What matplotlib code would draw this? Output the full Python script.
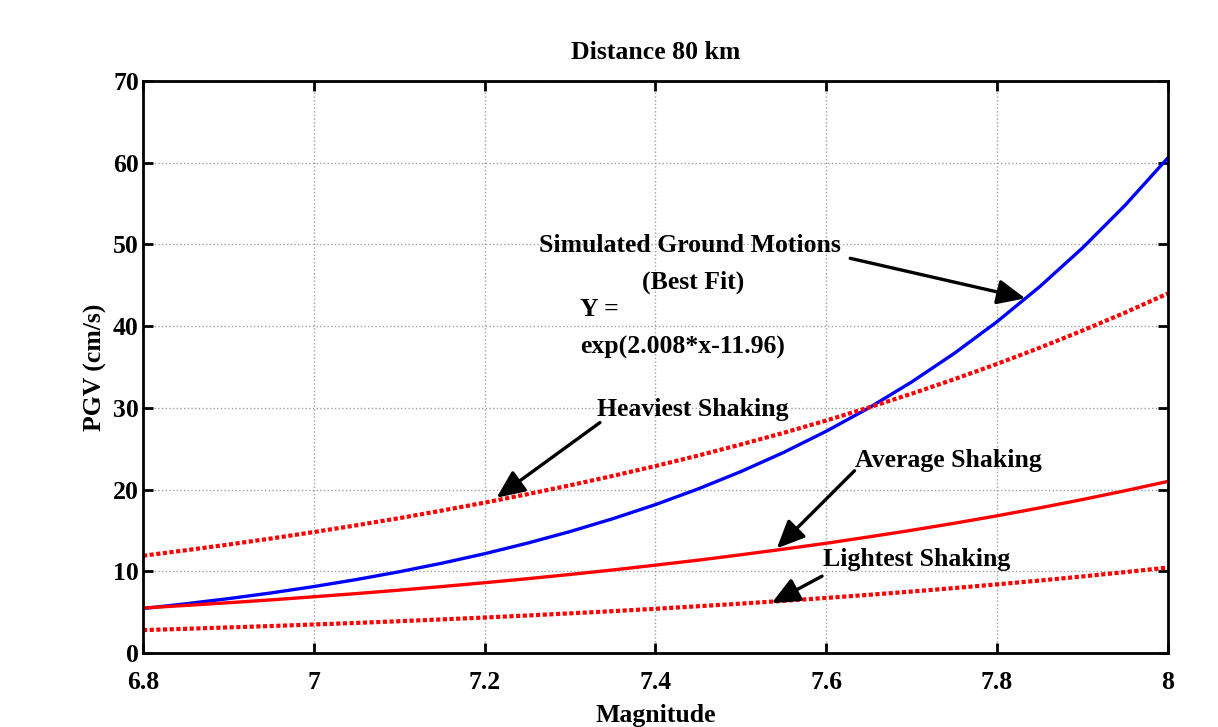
import numpy as np
import matplotlib
matplotlib.use("Agg")
import matplotlib.pyplot as plt

# magnitude samples
mag = [6.80, 6.85, 6.90, 6.95, 7.00, 7.05, 7.10, 7.15, 7.20, 7.25, 7.30, 7.35, 7.40,
       7.45, 7.50, 7.55, 7.60, 7.65, 7.70, 7.75, 7.80, 7.85, 7.90, 7.95, 8.00]

# PGV (cm/s)
best_fit = [5.44, 6.02, 6.65, 7.35, 8.13, 8.99, 9.94, 10.99, 12.15, 13.44, 14.86, 16.43, 18.16,
            20.08, 22.20, 24.54, 27.14, 30.00, 33.17, 36.68, 40.55, 44.84, 49.57, 54.81, 60.6]
heaviest = [11.9, 12.57, 13.27, 14.01, 14.80, 15.63, 16.50, 17.43, 18.40, 19.43, 20.52, 21.67, 22.88,
            24.16, 25.52, 26.94, 28.45, 30.05, 31.73, 33.51, 35.38, 37.36, 39.46, 41.66, 44.0]
average = [5.50, 5.82, 6.15, 6.50, 6.88, 7.27, 7.69, 8.13, 8.60, 9.09, 9.61, 10.16, 10.75,
           11.36, 12.02, 12.71, 13.43, 14.21, 15.02, 15.88, 16.79, 17.76, 18.78, 19.86, 21.0]
lightest = [2.80, 2.96, 3.13, 3.30, 3.49, 3.68, 3.89, 4.11, 4.34, 4.59, 4.85, 5.12, 5.41,
            5.72, 6.04, 6.38, 6.74, 7.12, 7.52, 7.95, 8.40, 8.87, 9.37, 9.90, 10.46]

plt.rcParams['font.family'] = ['Liberation Serif', 'DejaVu Serif']
plt.rcParams['font.weight'] = 'bold'
fs = 18.5

fig = plt.figure(figsize=(12.18, 7.27), dpi=100)
ax = fig.add_axes([0.1174, 0.1018, 0.8415, 0.7868])

dots = (0, (1.0, 0.6))
ax.plot(mag, best_fit, color='#0000ff', lw=2.4)
ax.plot(mag, heaviest, color='#ff0000', lw=3.0, ls=dots)
ax.plot(mag, average, color='#ff0000', lw=2.4)
ax.plot(mag, lightest, color='#ff0000', lw=3.0, ls=dots)

ax.set_xlim(6.8, 8)
ax.set_ylim(0, 70)
ax.set_xticks([6.8, 7.0, 7.2, 7.4, 7.6, 7.8, 8.0])
ax.set_xticklabels(['6.8', '7', '7.2', '7.4', '7.6', '7.8', '8'])
ax.set_yticks(range(0, 71, 10))
ax.grid(True, color='#a0a0a0', ls=':', lw=1)
ax.tick_params(direction='in', length=7, width=2, top=True, right=True,
               labelsize=fs)
ax.tick_params(axis='x', pad=13)
ax.tick_params(axis='y', pad=3)
for s in ax.spines.values():
    s.set_linewidth(2)

ax.set_title('Distance 80 km', fontsize=fs, fontweight='bold', pad=16)
ax.set_xlabel('Magnitude', fontsize=fs, fontweight='bold', labelpad=7)
ax.set_ylabel('PGV (cm/s)', fontsize=fs, fontweight='bold', labelpad=4)

arrow = dict(arrowstyle='-|>,head_length=0.85,head_width=0.38', color='black',
             lw=2.4, mutation_scale=20, shrinkA=0, shrinkB=0)


def note(label, x, y, ha='left'):
    ax.text(x, y, label, fontsize=fs, fontweight='bold', ha=ha, va='center')


note('Simulated Ground Motions', 7.440, 49.9, ha='center')
note('(Best Fit)', 7.444, 45.4, ha='center')
note('Y =', 7.312, 42.0)
note('exp(2.008*x-11.96)', 7.312, 37.45)
note('Heaviest Shaking', 7.332, 29.8)
note('Average Shaking', 7.634, 23.6)
note('Lightest Shaking', 7.596, 11.4)

ax.annotate('', xy=(7.833, 43.4), xytext=(7.628, 48.3), arrowprops=arrow)
ax.annotate('', xy=(7.214, 19.0), xytext=(7.335, 28.2), arrowprops=arrow)
ax.annotate('', xy=(7.542, 12.8), xytext=(7.633, 22.3), arrowprops=arrow)
ax.annotate('', xy=(7.536, 6.1), xytext=(7.595, 9.4), arrowprops=arrow)

fig.savefig('out.png', dpi=100)
